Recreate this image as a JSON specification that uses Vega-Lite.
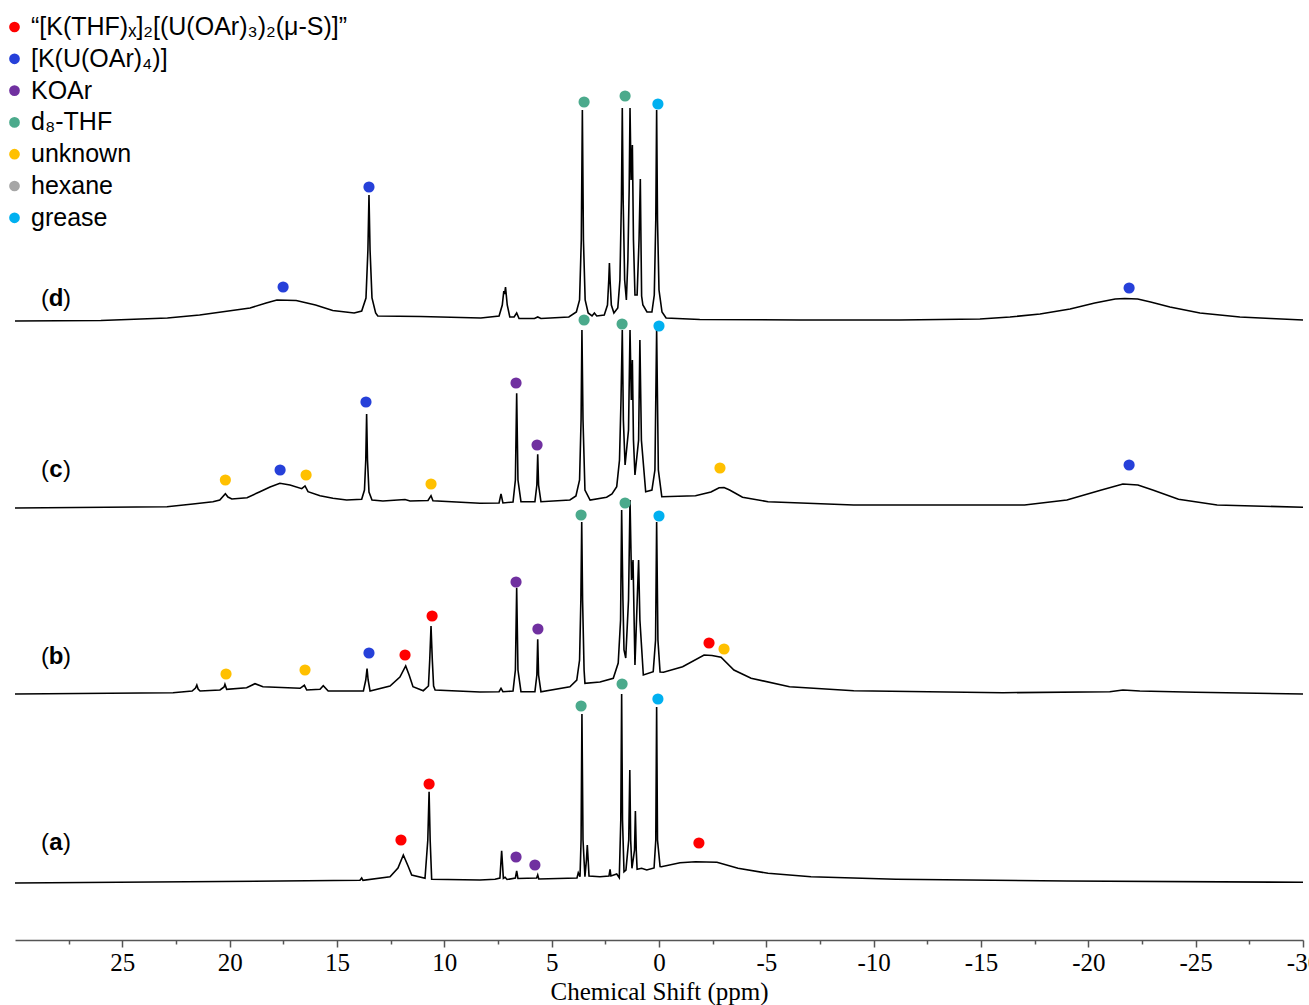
{
  "$schema": "https://vega.github.io/schema/vega-lite/v6.json",
  "width": 1288,
  "height": 940,
  "autosize": {"type": "none"},
  "padding": {"left": 15, "top": 0, "right": 6, "bottom": 65},
  "background": "white",
  "config": {"view": {"stroke": null}},
  "datasets": {
    "spectra": [
      {"trace":"d","ppm":30,"intensity":619},{"trace":"d","ppm":26,"intensity":619.5},{"trace":"d","ppm":22.9,"intensity":622},{"trace":"d","ppm":21.4,"intensity":625},{"trace":"d","ppm":19.05,"intensity":632},{"trace":"d","ppm":18.3,"intensity":637},{"trace":"d","ppm":17.8,"intensity":640},{"trace":"d","ppm":16.9,"intensity":639.5},{"trace":"d","ppm":16,"intensity":635},{"trace":"d","ppm":15.2,"intensity":629.5},{"trace":"d","ppm":14.2,"intensity":627},{"trace":"d","ppm":13.85,"intensity":629},{"trace":"d","ppm":13.65,"intensity":642},{"trace":"d","ppm":13.56,"intensity":690},{"trace":"d","ppm":13.51,"intensity":745},{"trace":"d","ppm":13.46,"intensity":690},{"trace":"d","ppm":13.37,"intensity":642},{"trace":"d","ppm":13.2,"intensity":627},{"trace":"d","ppm":13.1,"intensity":624},{"trace":"d","ppm":11.1,"intensity":623.5},{"trace":"d","ppm":8.3,"intensity":622},{"trace":"d","ppm":7.45,"intensity":624},{"trace":"d","ppm":7.3,"intensity":635},{"trace":"d","ppm":7.23,"intensity":649},{"trace":"d","ppm":7.19,"intensity":646},{"trace":"d","ppm":7.15,"intensity":653},{"trace":"d","ppm":7.07,"intensity":635},{"trace":"d","ppm":6.95,"intensity":623},{"trace":"d","ppm":6.75,"intensity":623},{"trace":"d","ppm":6.63,"intensity":627},{"trace":"d","ppm":6.52,"intensity":621.5},{"trace":"d","ppm":5.8,"intensity":621.5},{"trace":"d","ppm":5.65,"intensity":623},{"trace":"d","ppm":5.5,"intensity":621.5},{"trace":"d","ppm":4.2,"intensity":623},{"trace":"d","ppm":3.85,"intensity":628},{"trace":"d","ppm":3.7,"intensity":640},{"trace":"d","ppm":3.62,"intensity":700},{"trace":"d","ppm":3.57,"intensity":830},{"trace":"d","ppm":3.52,"intensity":700},{"trace":"d","ppm":3.44,"intensity":640},{"trace":"d","ppm":3.3,"intensity":627},{"trace":"d","ppm":3.12,"intensity":624},{"trace":"d","ppm":3.01,"intensity":627},{"trace":"d","ppm":2.9,"intensity":624},{"trace":"d","ppm":2.55,"intensity":625},{"trace":"d","ppm":2.4,"intensity":635},{"trace":"d","ppm":2.34,"intensity":660},{"trace":"d","ppm":2.31,"intensity":677},{"trace":"d","ppm":2.28,"intensity":660},{"trace":"d","ppm":2.22,"intensity":635},{"trace":"d","ppm":2.1,"intensity":627},{"trace":"d","ppm":1.92,"intensity":632},{"trace":"d","ppm":1.82,"intensity":660},{"trace":"d","ppm":1.75,"intensity":740},{"trace":"d","ppm":1.71,"intensity":832},{"trace":"d","ppm":1.67,"intensity":740},{"trace":"d","ppm":1.6,"intensity":660},{"trace":"d","ppm":1.52,"intensity":640},{"trace":"d","ppm":1.45,"intensity":680},{"trace":"d","ppm":1.39,"intensity":750},{"trace":"d","ppm":1.35,"intensity":832},{"trace":"d","ppm":1.3,"intensity":760},{"trace":"d","ppm":1.24,"intensity":795},{"trace":"d","ppm":1.19,"intensity":700},{"trace":"d","ppm":1.12,"intensity":645},{"trace":"d","ppm":1.02,"intensity":645},{"trace":"d","ppm":0.93,"intensity":700},{"trace":"d","ppm":0.87,"intensity":761},{"trace":"d","ppm":0.84,"intensity":700},{"trace":"d","ppm":0.81,"intensity":644},{"trace":"d","ppm":0.75,"intensity":635},{"trace":"d","ppm":0.56,"intensity":628},{"trace":"d","ppm":0.33,"intensity":628},{"trace":"d","ppm":0.22,"intensity":645},{"trace":"d","ppm":0.15,"intensity":720},{"trace":"d","ppm":0.11,"intensity":830},{"trace":"d","ppm":0.07,"intensity":720},{"trace":"d","ppm":0,"intensity":650},{"trace":"d","ppm":-0.14,"intensity":628},{"trace":"d","ppm":-0.33,"intensity":622},{"trace":"d","ppm":-1.9,"intensity":620.5},{"trace":"d","ppm":-6.6,"intensity":620},{"trace":"d","ppm":-11.2,"intensity":620},{"trace":"d","ppm":-14.95,"intensity":621},{"trace":"d","ppm":-16.35,"intensity":623},{"trace":"d","ppm":-17.75,"intensity":626},{"trace":"d","ppm":-19.15,"intensity":631},{"trace":"d","ppm":-20.3,"intensity":637},{"trace":"d","ppm":-21.25,"intensity":641},{"trace":"d","ppm":-21.7,"intensity":641.5},{"trace":"d","ppm":-22.3,"intensity":641},{"trace":"d","ppm":-22.9,"intensity":638},{"trace":"d","ppm":-23.8,"intensity":633},{"trace":"d","ppm":-25.2,"intensity":627},{"trace":"d","ppm":-27.06,"intensity":623},{"trace":"d","ppm":-28.5,"intensity":621.5},{"trace":"d","ppm":-30,"intensity":620},

      {"trace":"c","ppm":30,"intensity":432},{"trace":"c","ppm":22.92,"intensity":433.3},{"trace":"c","ppm":21.71,"intensity":436},{"trace":"c","ppm":20.78,"intensity":438.3},{"trace":"c","ppm":20.46,"intensity":440},{"trace":"c","ppm":20.2,"intensity":446.3},{"trace":"c","ppm":20.08,"intensity":443},{"trace":"c","ppm":19.9,"intensity":441},{"trace":"c","ppm":19.19,"intensity":442.3},{"trace":"c","ppm":18.59,"intensity":448.3},{"trace":"c","ppm":18.12,"intensity":453},{"trace":"c","ppm":17.66,"intensity":456.7},{"trace":"c","ppm":17.19,"intensity":455},{"trace":"c","ppm":16.64,"intensity":451.3},{"trace":"c","ppm":16.49,"intensity":454},{"trace":"c","ppm":16.35,"intensity":448.3},{"trace":"c","ppm":15.79,"intensity":444.3},{"trace":"c","ppm":15.19,"intensity":441.7},{"trace":"c","ppm":14.55,"intensity":440},{"trace":"c","ppm":13.85,"intensity":440.7},{"trace":"c","ppm":13.72,"intensity":450},{"trace":"c","ppm":13.66,"intensity":480},{"trace":"c","ppm":13.62,"intensity":526},{"trace":"c","ppm":13.58,"intensity":480},{"trace":"c","ppm":13.51,"intensity":448},{"trace":"c","ppm":13.37,"intensity":440},{"trace":"c","ppm":12.86,"intensity":439},{"trace":"c","ppm":11.83,"intensity":440.5},{"trace":"c","ppm":11.6,"intensity":439},{"trace":"c","ppm":10.76,"intensity":439.5},{"trace":"c","ppm":10.62,"intensity":444.3},{"trace":"c","ppm":10.53,"intensity":439.3},{"trace":"c","ppm":8.34,"intensity":436.7},{"trace":"c","ppm":7.45,"intensity":437},{"trace":"c","ppm":7.36,"intensity":446},{"trace":"c","ppm":7.27,"intensity":437},{"trace":"c","ppm":6.8,"intensity":438},{"trace":"c","ppm":6.69,"intensity":460},{"trace":"c","ppm":6.63,"intensity":546.7},{"trace":"c","ppm":6.57,"intensity":460},{"trace":"c","ppm":6.43,"intensity":438.3},{"trace":"c","ppm":5.78,"intensity":438.3},{"trace":"c","ppm":5.69,"intensity":455},{"trace":"c","ppm":5.65,"intensity":485.7},{"trace":"c","ppm":5.61,"intensity":455},{"trace":"c","ppm":5.5,"intensity":438.3},{"trace":"c","ppm":4.15,"intensity":440},{"trace":"c","ppm":3.87,"intensity":444},{"trace":"c","ppm":3.7,"intensity":460},{"trace":"c","ppm":3.63,"intensity":520},{"trace":"c","ppm":3.59,"intensity":610},{"trace":"c","ppm":3.54,"intensity":520},{"trace":"c","ppm":3.45,"intensity":450},{"trace":"c","ppm":3.21,"intensity":440},{"trace":"c","ppm":2.44,"intensity":442.7},{"trace":"c","ppm":2.19,"intensity":446},{"trace":"c","ppm":1.97,"intensity":453.3},{"trace":"c","ppm":1.84,"intensity":480},{"trace":"c","ppm":1.77,"intensity":540},{"trace":"c","ppm":1.71,"intensity":610},{"trace":"c","ppm":1.66,"intensity":520},{"trace":"c","ppm":1.58,"intensity":475},{"trace":"c","ppm":1.42,"intensity":510},{"trace":"c","ppm":1.35,"intensity":610},{"trace":"c","ppm":1.29,"intensity":540},{"trace":"c","ppm":1.24,"intensity":580},{"trace":"c","ppm":1.19,"intensity":500},{"trace":"c","ppm":1.12,"intensity":465},{"trace":"c","ppm":0.95,"intensity":500},{"trace":"c","ppm":0.89,"intensity":600},{"trace":"c","ppm":0.82,"intensity":500},{"trace":"c","ppm":0.62,"intensity":448.3},{"trace":"c","ppm":0.33,"intensity":450},{"trace":"c","ppm":0.19,"intensity":470},{"trace":"c","ppm":0.11,"intensity":610},{"trace":"c","ppm":0.03,"intensity":470},{"trace":"c","ppm":-0.13,"intensity":443.3},{"trace":"c","ppm":-1.7,"intensity":444.3},{"trace":"c","ppm":-2.42,"intensity":448},{"trace":"c","ppm":-2.8,"intensity":452.3},{"trace":"c","ppm":-3.03,"intensity":452.5},{"trace":"c","ppm":-3.29,"intensity":450},{"trace":"c","ppm":-3.89,"intensity":442.7},{"trace":"c","ppm":-5.08,"intensity":438.3},{"trace":"c","ppm":-9.07,"intensity":435},{"trace":"c","ppm":-17.03,"intensity":435},{"trace":"c","ppm":-19,"intensity":440},{"trace":"c","ppm":-20.61,"intensity":450},{"trace":"c","ppm":-21.61,"intensity":456},{"trace":"c","ppm":-22.31,"intensity":455},{"trace":"c","ppm":-23,"intensity":450},{"trace":"c","ppm":-24.2,"intensity":440.7},{"trace":"c","ppm":-26,"intensity":435},{"trace":"c","ppm":-30,"intensity":432.7},

      {"trace":"b","ppm":30,"intensity":246},{"trace":"b","ppm":22.64,"intensity":247.3},{"trace":"b","ppm":21.75,"intensity":249},{"trace":"b","ppm":21.59,"intensity":252},{"trace":"b","ppm":21.53,"intensity":255},{"trace":"b","ppm":21.47,"intensity":251},{"trace":"b","ppm":21.38,"intensity":249},{"trace":"b","ppm":20.45,"intensity":250},{"trace":"b","ppm":20.26,"intensity":253},{"trace":"b","ppm":20.22,"intensity":255.7},{"trace":"b","ppm":20.14,"intensity":250.7},{"trace":"b","ppm":19.21,"intensity":252.3},{"trace":"b","ppm":18.82,"intensity":256.3},{"trace":"b","ppm":18.45,"intensity":253.3},{"trace":"b","ppm":16.72,"intensity":251.7},{"trace":"b","ppm":16.52,"intensity":254.7},{"trace":"b","ppm":16.41,"intensity":250},{"trace":"b","ppm":15.79,"intensity":250.7},{"trace":"b","ppm":15.64,"intensity":254.3},{"trace":"b","ppm":15.41,"intensity":249},{"trace":"b","ppm":13.77,"intensity":249},{"trace":"b","ppm":13.66,"intensity":260},{"trace":"b","ppm":13.6,"intensity":271.3},{"trace":"b","ppm":13.55,"intensity":260},{"trace":"b","ppm":13.46,"intensity":249},{"trace":"b","ppm":12.53,"intensity":254},{"trace":"b","ppm":12.07,"intensity":263},{"trace":"b","ppm":11.8,"intensity":274},{"trace":"b","ppm":11.64,"intensity":265},{"trace":"b","ppm":11.46,"intensity":253.3},{"trace":"b","ppm":10.98,"intensity":249.3},{"trace":"b","ppm":10.74,"intensity":254},{"trace":"b","ppm":10.68,"intensity":280},{"trace":"b","ppm":10.62,"intensity":314},{"trace":"b","ppm":10.56,"intensity":280},{"trace":"b","ppm":10.5,"intensity":254},{"trace":"b","ppm":10.43,"intensity":250},{"trace":"b","ppm":8.34,"intensity":248},{"trace":"b","ppm":7.45,"intensity":248.3},{"trace":"b","ppm":7.36,"intensity":251.7},{"trace":"b","ppm":7.27,"intensity":248.3},{"trace":"b","ppm":6.8,"intensity":249},{"trace":"b","ppm":6.69,"intensity":270},{"trace":"b","ppm":6.63,"intensity":352.3},{"trace":"b","ppm":6.57,"intensity":270},{"trace":"b","ppm":6.43,"intensity":248.3},{"trace":"b","ppm":5.78,"intensity":248.3},{"trace":"b","ppm":5.69,"intensity":265},{"trace":"b","ppm":5.65,"intensity":300.7},{"trace":"b","ppm":5.61,"intensity":265},{"trace":"b","ppm":5.5,"intensity":248.3},{"trace":"b","ppm":4.15,"intensity":253.3},{"trace":"b","ppm":3.83,"intensity":260},{"trace":"b","ppm":3.7,"intensity":280},{"trace":"b","ppm":3.64,"intensity":340},{"trace":"b","ppm":3.6,"intensity":418},{"trace":"b","ppm":3.56,"intensity":340},{"trace":"b","ppm":3.49,"intensity":270},{"trace":"b","ppm":3.45,"intensity":256.7},{"trace":"b","ppm":2.75,"intensity":258},{"trace":"b","ppm":2.13,"intensity":261.7},{"trace":"b","ppm":1.9,"intensity":277},{"trace":"b","ppm":1.79,"intensity":320},{"trace":"b","ppm":1.74,"intensity":430},{"trace":"b","ppm":1.68,"intensity":340},{"trace":"b","ppm":1.63,"intensity":290},{"trace":"b","ppm":1.55,"intensity":282},{"trace":"b","ppm":1.42,"intensity":340},{"trace":"b","ppm":1.35,"intensity":440},{"trace":"b","ppm":1.28,"intensity":360},{"trace":"b","ppm":1.21,"intensity":380},{"trace":"b","ppm":1.12,"intensity":275},{"trace":"b","ppm":0.95,"intensity":380},{"trace":"b","ppm":0.89,"intensity":320},{"trace":"b","ppm":0.73,"intensity":265},{"trace":"b","ppm":0.27,"intensity":268.3},{"trace":"b","ppm":0.16,"intensity":300},{"trace":"b","ppm":0.11,"intensity":418},{"trace":"b","ppm":0.05,"intensity":300},{"trace":"b","ppm":-0.05,"intensity":268},{"trace":"b","ppm":-0.21,"intensity":267.7},{"trace":"b","ppm":-1.1,"intensity":273.3},{"trace":"b","ppm":-2.1,"intensity":285},{"trace":"b","ppm":-2.47,"intensity":284.5},{"trace":"b","ppm":-2.89,"intensity":282.7},{"trace":"b","ppm":-3.49,"intensity":270},{"trace":"b","ppm":-4.29,"intensity":261.7},{"trace":"b","ppm":-6.08,"intensity":253.3},{"trace":"b","ppm":-9.07,"intensity":249.3},{"trace":"b","ppm":-16.02,"intensity":247.3},{"trace":"b","ppm":-21,"intensity":248.3},{"trace":"b","ppm":-21.61,"intensity":250},{"trace":"b","ppm":-22.4,"intensity":249},{"trace":"b","ppm":-25,"intensity":247.7},{"trace":"b","ppm":-30,"intensity":246},

      {"trace":"a","ppm":30,"intensity":57},{"trace":"a","ppm":17.65,"intensity":59},{"trace":"a","ppm":13.93,"intensity":59.7},{"trace":"a","ppm":13.85,"intensity":62},{"trace":"a","ppm":13.79,"intensity":59.7},{"trace":"a","ppm":12.53,"intensity":63.3},{"trace":"a","ppm":12.16,"intensity":72},{"trace":"a","ppm":11.91,"intensity":85},{"trace":"a","ppm":11.69,"intensity":74},{"trace":"a","ppm":11.52,"intensity":65},{"trace":"a","ppm":10.9,"intensity":61.7},{"trace":"a","ppm":10.77,"intensity":100},{"trace":"a","ppm":10.71,"intensity":148.3},{"trace":"a","ppm":10.66,"intensity":100},{"trace":"a","ppm":10.59,"intensity":60.7},{"trace":"a","ppm":8.34,"intensity":60},{"trace":"a","ppm":7.64,"intensity":60.7},{"trace":"a","ppm":7.41,"intensity":62},{"trace":"a","ppm":7.33,"intensity":89.3},{"trace":"a","ppm":7.25,"intensity":61.7},{"trace":"a","ppm":7.17,"intensity":62.7},{"trace":"a","ppm":7.08,"intensity":60.5},{"trace":"a","ppm":6.69,"intensity":62},{"trace":"a","ppm":6.63,"intensity":69},{"trace":"a","ppm":6.57,"intensity":61.5},{"trace":"a","ppm":5.7,"intensity":62},{"trace":"a","ppm":5.65,"intensity":65},{"trace":"a","ppm":5.6,"intensity":61},{"trace":"a","ppm":3.82,"intensity":62},{"trace":"a","ppm":3.76,"intensity":67.3},{"trace":"a","ppm":3.68,"intensity":63.3},{"trace":"a","ppm":3.63,"intensity":100},{"trace":"a","ppm":3.59,"intensity":226},{"trace":"a","ppm":3.54,"intensity":100},{"trace":"a","ppm":3.45,"intensity":63.3},{"trace":"a","ppm":3.38,"intensity":80},{"trace":"a","ppm":3.34,"intensity":95},{"trace":"a","ppm":3.3,"intensity":80},{"trace":"a","ppm":3.26,"intensity":64},{"trace":"a","ppm":2.75,"intensity":63.3},{"trace":"a","ppm":2.33,"intensity":64},{"trace":"a","ppm":2.28,"intensity":70.7},{"trace":"a","ppm":2.24,"intensity":64},{"trace":"a","ppm":1.97,"intensity":66},{"trace":"a","ppm":1.85,"intensity":62.3},{"trace":"a","ppm":1.78,"intensity":120},{"trace":"a","ppm":1.74,"intensity":246},{"trace":"a","ppm":1.7,"intensity":120},{"trace":"a","ppm":1.63,"intensity":68.3},{"trace":"a","ppm":1.54,"intensity":70},{"trace":"a","ppm":1.41,"intensity":100},{"trace":"a","ppm":1.36,"intensity":170},{"trace":"a","ppm":1.32,"intensity":100},{"trace":"a","ppm":1.26,"intensity":71.7},{"trace":"a","ppm":1.14,"intensity":90},{"trace":"a","ppm":1.1,"intensity":129},{"trace":"a","ppm":1.06,"intensity":90},{"trace":"a","ppm":1.02,"intensity":70.7},{"trace":"a","ppm":0.81,"intensity":71.7},{"trace":"a","ppm":0.57,"intensity":70},{"trace":"a","ppm":0.23,"intensity":72},{"trace":"a","ppm":0.15,"intensity":100},{"trace":"a","ppm":0.11,"intensity":233},{"trace":"a","ppm":0.07,"intensity":100},{"trace":"a","ppm":-0.05,"intensity":73.5},{"trace":"a","ppm":-0.11,"intensity":73.3},{"trace":"a","ppm":-0.98,"intensity":77.3},{"trace":"a","ppm":-1.7,"intensity":78.3},{"trace":"a","ppm":-2.7,"intensity":77.7},{"trace":"a","ppm":-3.68,"intensity":71.7},{"trace":"a","ppm":-5.08,"intensity":66.7},{"trace":"a","ppm":-7.08,"intensity":63.3},{"trace":"a","ppm":-11.04,"intensity":60.7},{"trace":"a","ppm":-19,"intensity":59},{"trace":"a","ppm":-30,"intensity":57.7}
    ],
    "markers": [
      {"species":"[K(U(OAr)₄)]","ppm":17.51,"intensity":653},
      {"species":"[K(U(OAr)₄)]","ppm":13.51,"intensity":753},
      {"species":"d₈-THF","ppm":3.49,"intensity":838},
      {"species":"d₈-THF","ppm":1.58,"intensity":844},
      {"species":"grease","ppm":0.05,"intensity":836},
      {"species":"[K(U(OAr)₄)]","ppm":-21.9,"intensity":652},
      {"species":"unknown","ppm":20.2,"intensity":460},
      {"species":"[K(U(OAr)₄)]","ppm":17.65,"intensity":470},
      {"species":"unknown","ppm":16.44,"intensity":465},
      {"species":"[K(U(OAr)₄)]","ppm":13.65,"intensity":538},
      {"species":"unknown","ppm":10.62,"intensity":456},
      {"species":"KOAr","ppm":6.66,"intensity":557},
      {"species":"KOAr","ppm":5.68,"intensity":495},
      {"species":"d₈-THF","ppm":3.49,"intensity":620},
      {"species":"d₈-THF","ppm":1.72,"intensity":616},
      {"species":"grease","ppm":0.0,"intensity":614},
      {"species":"unknown","ppm":-2.84,"intensity":472},
      {"species":"[K(U(OAr)₄)]","ppm":-21.9,"intensity":475},
      {"species":"unknown","ppm":20.17,"intensity":266},
      {"species":"unknown","ppm":16.49,"intensity":270},
      {"species":"[K(U(OAr)₄)]","ppm":13.51,"intensity":287},
      {"species":"“[K(THF)ₓ]₂[(U(OAr)₃)₂(μ-S)]”","ppm":11.83,"intensity":285},
      {"species":"“[K(THF)ₓ]₂[(U(OAr)₃)₂(μ-S)]”","ppm":10.57,"intensity":324},
      {"species":"KOAr","ppm":6.66,"intensity":358},
      {"species":"KOAr","ppm":5.64,"intensity":311},
      {"species":"d₈-THF","ppm":3.63,"intensity":425},
      {"species":"d₈-THF","ppm":1.58,"intensity":437},
      {"species":"grease","ppm":0.0,"intensity":424},
      {"species":"“[K(THF)ₓ]₂[(U(OAr)₃)₂(μ-S)]”","ppm":-2.33,"intensity":297},
      {"species":"unknown","ppm":-3.03,"intensity":291},
      {"species":"“[K(THF)ₓ]₂[(U(OAr)₃)₂(μ-S)]”","ppm":12.02,"intensity":100},
      {"species":"“[K(THF)ₓ]₂[(U(OAr)₃)₂(μ-S)]”","ppm":10.71,"intensity":156},
      {"species":"KOAr","ppm":6.66,"intensity":83},
      {"species":"KOAr","ppm":5.78,"intensity":75},
      {"species":"d₈-THF","ppm":3.63,"intensity":234},
      {"species":"d₈-THF","ppm":1.72,"intensity":256},
      {"species":"grease","ppm":0.05,"intensity":241},
      {"species":"“[K(THF)ₓ]₂[(U(OAr)₃)₂(μ-S)]”","ppm":-1.86,"intensity":97}
    ],
    "labels": [
      {"label":"d","ppm":28.09,"intensity":641},
      {"label":"c","ppm":28.09,"intensity":470},
      {"label":"b","ppm":28.09,"intensity":283},
      {"label":"a","ppm":28.09,"intensity":97}
    ]
  },
  "layer": [
    {
      "data": {"name": "spectra"},
      "mark": {"type": "line", "color": "black", "strokeWidth": 1.6},
      "encoding": {
        "x": {
          "field": "ppm", "type": "quantitative",
          "scale": {"domain": [-30, 30], "reverse": true, "nice": false, "zero": false},
          "axis": {
            "title": "Chemical Shift (ppm)",
            "values": [27.5, 25, 22.5, 20, 17.5, 15, 12.5, 10, 7.5, 5, 2.5, 0, -2.5, -5, -7.5, -10, -12.5, -15, -17.5, -20, -22.5, -25, -27.5, -30],
            "labelExpr": "datum.value % 5 === 0 ? (datum.value + '') : ''",
            "labelFont": "Liberation Serif", "labelFontSize": 25, "labelColor": "black",
            "labelPadding": 3, "labelFlush": false, "labelOverlap": false,
            "titleFont": "Liberation Serif", "titleFontSize": 25, "titleFontWeight": "normal", "titleColor": "black", "titlePadding": 4,
            "domainColor": "#555555", "domainWidth": 1.5,
            "tickColor": "#555555", "tickWidth": 1.5,
            "tickSize": {"condition": {"test": "datum.value % 5 === 0", "value": 7}, "value": 4},
            "grid": false
          }
        },
        "y": {"field": "intensity", "type": "quantitative", "scale": {"domain": [0, 940], "nice": false, "zero": false}, "axis": null},
        "detail": {"field": "trace"}
      }
    },
    {
      "data": {"name": "markers"},
      "mark": {"type": "point", "shape": "circle", "filled": true, "size": 125, "opacity": 1},
      "encoding": {
        "x": {"field": "ppm", "type": "quantitative"},
        "y": {"field": "intensity", "type": "quantitative"},
        "color": {
          "field": "species", "type": "nominal",
          "scale": {
            "domain": ["“[K(THF)ₓ]₂[(U(OAr)₃)₂(μ-S)]”", "[K(U(OAr)₄)]", "KOAr", "d₈-THF", "unknown", "hexane", "grease"],
            "range": ["#FF0000", "#2640D9", "#7030A0", "#4BAA8C", "#FFC000", "#A6A6A6", "#00B0F0"]
          },
          "legend": {
            "orient": "none", "legendX": -13, "legendY": 14.5, "title": null, "padding": 0,
            "labelFont": "Liberation Sans", "labelFontSize": 25, "labelColor": "black", "labelLimit": 0,
            "labelOffset": 4, "rowPadding": 5.8, "symbolSize": 115, "symbolType": "circle",
            "symbolStrokeWidth": 0, "symbolOpacity": 1
          }
        }
      }
    },
    {
      "data": {"name": "labels"},
      "mark": {"type": "text", "font": "Liberation Sans", "fontSize": 24, "fontWeight": "bold", "color": "black", "align": "center", "baseline": "middle"},
      "encoding": {
        "x": {"field": "ppm", "type": "quantitative"},
        "y": {"field": "intensity", "type": "quantitative"},
        "text": {"field": "label"}
      }
    },
    {
      "data": {"name": "labels"},
      "mark": {"type": "text", "text": "(", "font": "Liberation Sans", "fontSize": 24, "fontWeight": "normal", "color": "black", "align": "right", "baseline": "middle", "dx": -7},
      "encoding": {
        "x": {"field": "ppm", "type": "quantitative"},
        "y": {"field": "intensity", "type": "quantitative"}
      }
    },
    {
      "data": {"name": "labels"},
      "mark": {"type": "text", "text": ")", "font": "Liberation Sans", "fontSize": 24, "fontWeight": "normal", "color": "black", "align": "left", "baseline": "middle", "dx": 7},
      "encoding": {
        "x": {"field": "ppm", "type": "quantitative"},
        "y": {"field": "intensity", "type": "quantitative"}
      }
    }
  ]
}
